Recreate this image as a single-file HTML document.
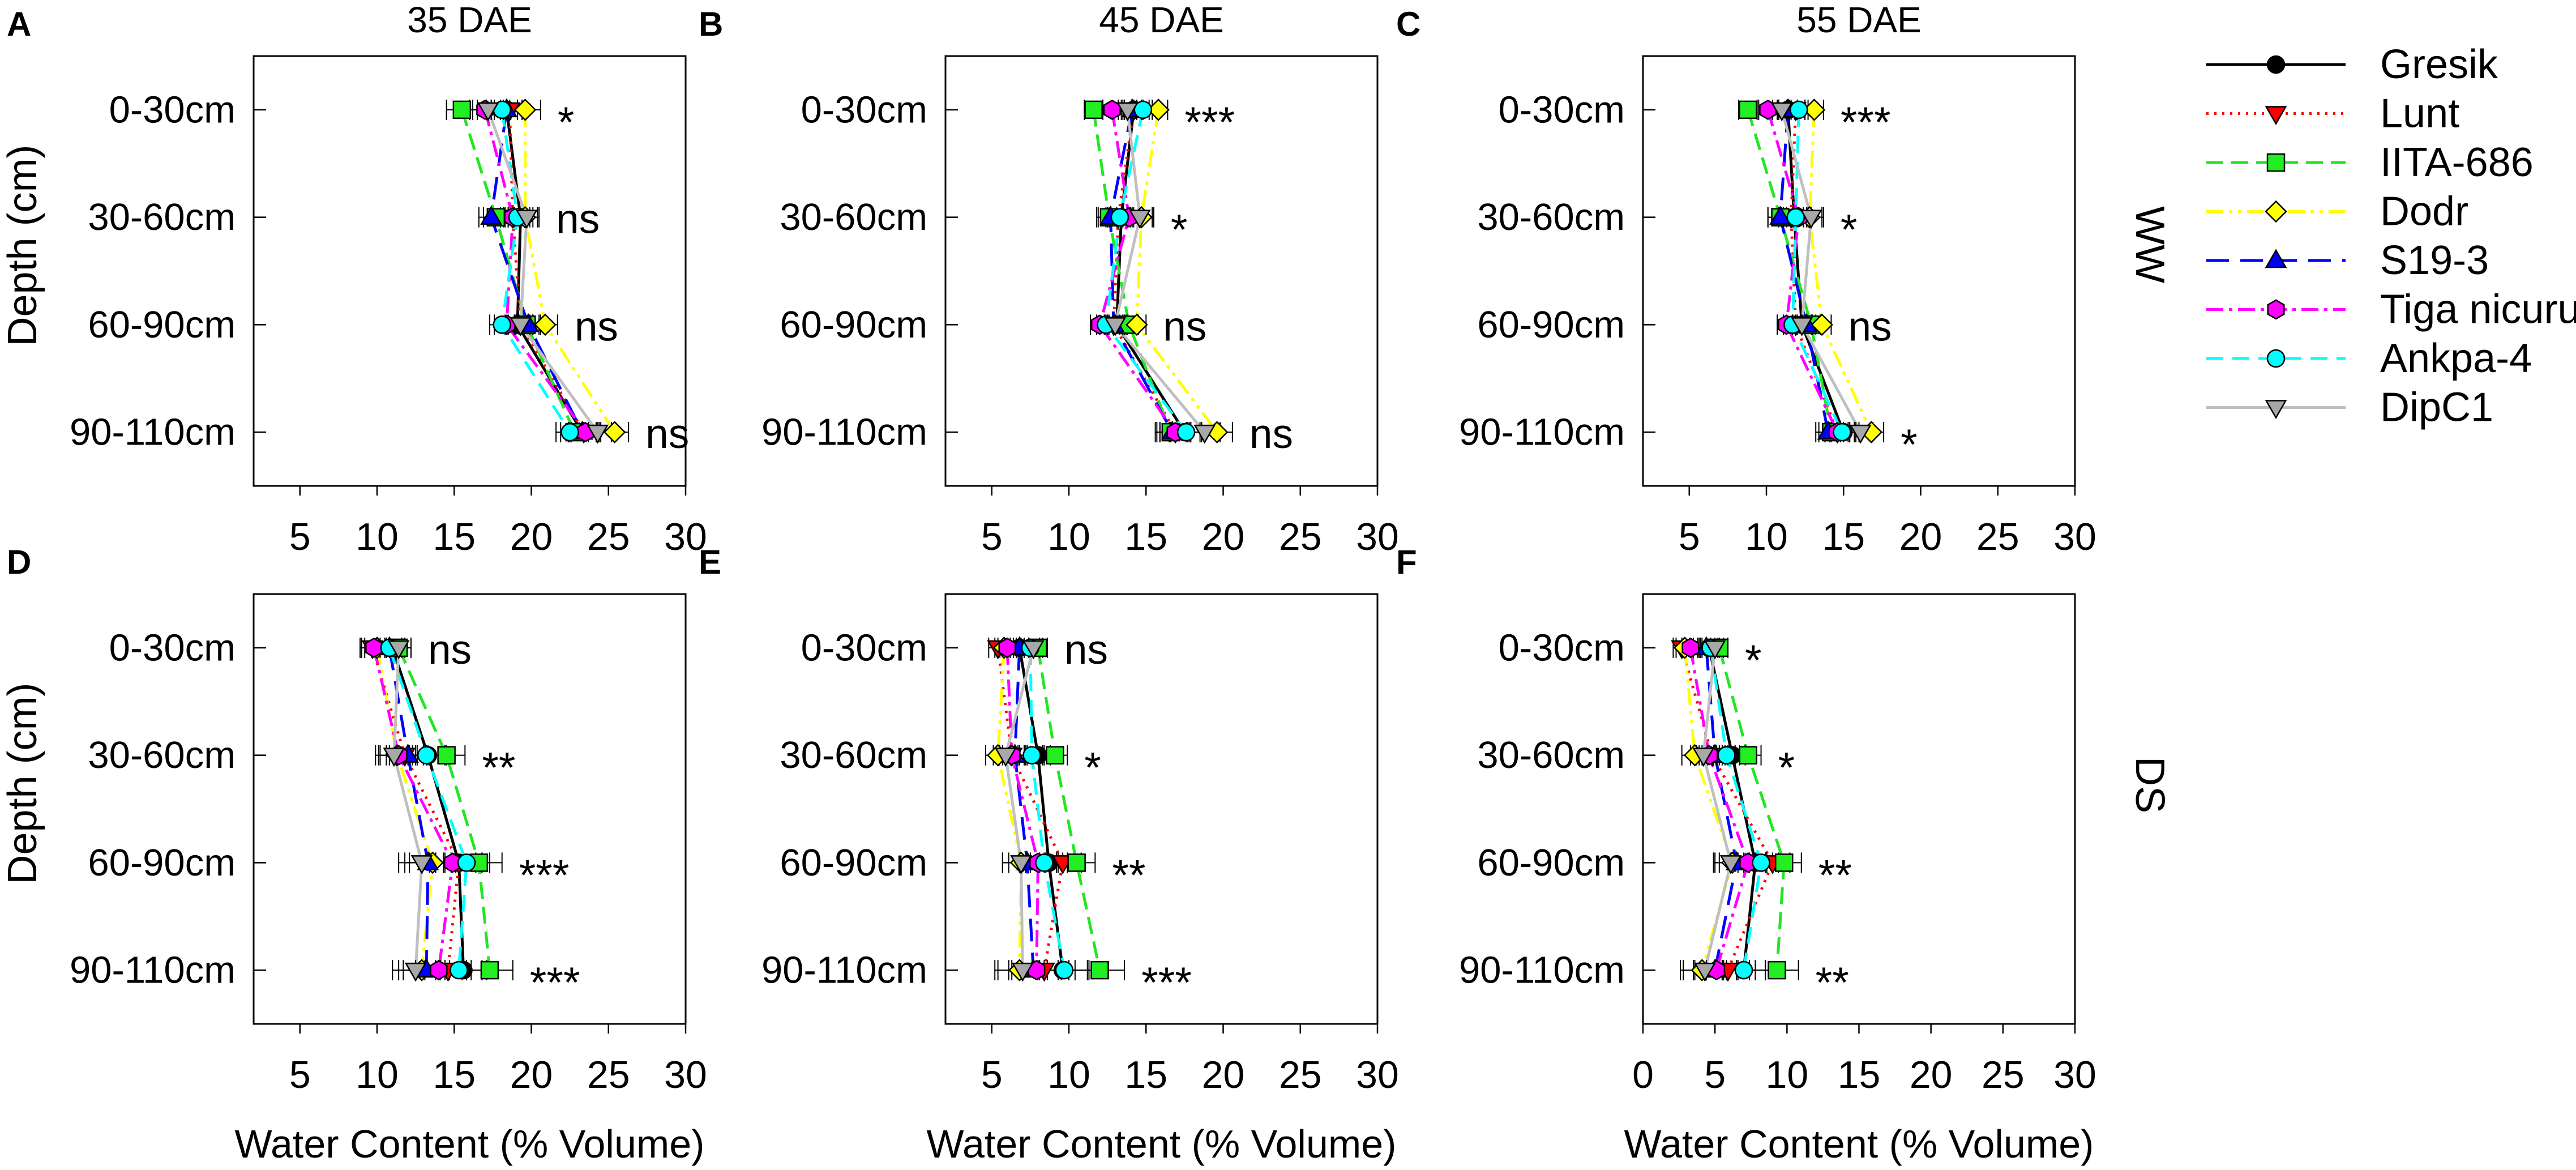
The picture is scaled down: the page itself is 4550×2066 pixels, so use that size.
<!DOCTYPE html>
<html><head><meta charset="utf-8"><style>
html,body{margin:0;padding:0;background:#fff;}
svg{display:block;font-family:"Liberation Sans",Arial,sans-serif;}
</style></head><body>
<svg id="chart" width="4550" height="2066" viewBox="0 0 4550 2066" xmlns="http://www.w3.org/2000/svg"></svg>
<script>
const categories = ["0-30cm","30-60cm","60-90cm","90-110cm"];
const seriesNames = ["Gresik","Lunt","IITA-686","Dodr","S19-3","Tiga nicuru","Ankpa-4","DipC1"];
const panelLetters = ["A","B","C","D","E","F"];
const panelTitles = ["35 DAE","45 DAE","55 DAE"];
const rowLabels = ["WW","DS"];
// values per series: [0-30, 30-60, 60-90, 90-110]
const valsA = [[18.4,19.3,19.1,23.3],[18.6,18.8,19.3,23.4],[15.5,17.7,19.7,22.8],[19.6,19.6,20.9,25.4],[18.4,17.4,19.8,23.3],[17.0,18.8,18.4,23.5],[18.1,19.1,18.1,22.5],[17.2,19.7,19.3,24.3]];
const valsB = [[14.2,13.4,13.1,17.5],[14.2,13.2,12.9,16.9],[11.6,12.6,13.9,16.6],[15.8,14.7,14.4,19.6],[14.1,12.7,12.9,16.7],[12.8,13.9,12.0,16.9],[14.8,13.3,12.4,17.6],[13.8,14.6,13.0,18.8]];
const valsC = [[11.4,11.8,12.3,15.0],[11.9,11.6,11.9,14.6],[8.8,10.9,12.9,14.2],[13.1,12.8,13.6,16.8],[11.4,10.9,12.6,14.0],[10.1,12.1,11.3,14.6],[12.1,11.9,11.7,14.9],[11.0,12.9,12.3,16.1]];
const valsD = [[11.0,13.3,15.3,15.6],[9.7,11.8,15.3,14.6],[11.4,14.5,16.6,17.3],[10.0,11.3,13.6,12.9],[10.8,12.0,13.3,13.2],[9.8,11.4,14.9,14.0],[10.8,13.2,15.8,15.3],[11.4,11.1,12.9,12.5]];
const valsE = [[6.8,8.0,8.7,9.6],[5.4,6.3,9.6,8.4],[8.0,9.1,10.5,12.0],[5.8,5.4,6.9,6.8],[6.8,6.5,7.3,7.7],[6.0,6.3,8.0,7.9],[7.5,7.6,8.4,9.7],[7.7,5.9,6.9,7.0]];
const valsF = [[4.6,6.2,7.8,7.0],[2.7,4.8,9.0,5.9],[5.3,7.3,9.8,9.3],[2.9,3.6,6.2,4.1],[4.4,5.0,6.5,5.0],[3.3,4.6,7.3,5.1],[4.7,5.8,8.2,7.0],[5.0,4.2,6.1,4.3]];
// standard errors per depth (shared across series)
const seA = [1.0,0.8,0.8,0.9];
const seB = [0.6,0.8,0.6,1.0];
const seC = [0.6,0.8,0.6,0.8];
const seD = [0.8,1.2,1.5,1.5];
const seE = [0.6,0.8,1.2,1.6];
const seF = [0.6,0.9,1.2,1.5];
const sigA = ["*","ns","ns","ns"];
const sigB = ["***","*","ns","ns"];
const sigC = ["***","*","ns","*"];
const sigD = ["ns","**","***","***"];
const sigE = ["ns","*","**","***"];
const sigF = ["*","*","**","**"];
const ticksAE = [5,10,15,20,25,30];
const ticksF = [0,5,10,15,20,25,30];

const NS = "http://www.w3.org/2000/svg";
const svg = document.getElementById("chart");
function mk(tag, attrs, parent){
  const e = document.createElementNS(NS, tag);
  for (const k in attrs) e.setAttribute(k, attrs[k]);
  (parent||svg).appendChild(e);
  return e;
}
const styles = [
  {stroke:"#000000", fill:"#000000", dash:"", shape:"circle"},
  {stroke:"#ff0000", fill:"#ff0000", dash:"4,10", shape:"tdown"},
  {stroke:"#22e622", fill:"#22ee22", dash:"30,14", shape:"square"},
  {stroke:"#ffff00", fill:"#ffff00", dash:"30,10,6,10,6,10", shape:"diamond"},
  {stroke:"#0000ff", fill:"#0000ff", dash:"40,20", shape:"tup"},
  {stroke:"#ff00ff", fill:"#ff00ff", dash:"30,10,6,10", shape:"hex"},
  {stroke:"#00ffff", fill:"#00ffff", dash:"30,16", shape:"circle"},
  {stroke:"#bfbfbf", fill:"#a8a8a8", dash:"", shape:"tdown"}
];
function marker(g, shape, cx, cy, fill, r){
  const a = {fill:fill, stroke:"#000", "stroke-width":2.5};
  let el;
  if (shape==="circle") el = mk("circle", Object.assign({cx:cx, cy:cy, r:r}, a), g);
  else if (shape==="square") el = mk("rect", Object.assign({x:cx-r, y:cy-r, width:2*r, height:2*r}, a), g);
  else {
    let pts;
    if (shape==="diamond") pts=[[0,-r*1.2],[r*1.2,0],[0,r*1.2],[-r*1.2,0]];
    else if (shape==="tup") pts=[[0,-r*1.2],[r*1.15,r*0.8],[-r*1.15,r*0.8]];
    else if (shape==="tdown") pts=[[0,r*1.2],[r*1.15,-r*0.8],[-r*1.15,-r*0.8]];
    else { pts=[]; for(let i=0;i<6;i++){const t=Math.PI/6+i*Math.PI/3; pts.push([r*1.1*Math.cos(t), r*1.1*Math.sin(t)]);} }
    el = mk("polygon", Object.assign({points: pts.map(p=>(cx+p[0])+","+(cy+p[1])).join(" ")}, a), g);
  }
  return el;
}

const panels = [
  {vals:valsA, se:seA, sig:sigA, x0:448, y0:99, min:2, ticks:ticksAE},
  {vals:valsB, se:seB, sig:sigB, x0:1670, y0:99, min:2, ticks:ticksAE},
  {vals:valsC, se:seC, sig:sigC, x0:2902, y0:99, min:2, ticks:ticksAE},
  {vals:valsD, se:seD, sig:sigD, x0:448, y0:1049, min:2, ticks:ticksAE},
  {vals:valsE, se:seE, sig:sigE, x0:1670, y0:1049, min:2, ticks:ticksAE},
  {vals:valsF, se:seF, sig:sigF, x0:2902, y0:1049, min:0, ticks:ticksF}
];
const W = 763, H = 759, MAX = 30;

panels.forEach((p, pi) => {
  const g = mk("g", {});
  
  
  const xs = v => p.x0 + (v - p.min) / (MAX - p.min) * W;
  const ys = i => p.y0 + (i + 0.5) * H / 4;
  const box = mk("rect", {x:p.x0, y:p.y0, width:W, height:H, fill:"none", stroke:"#000", "stroke-width":3}, g);
  
  
  // y ticks & labels
  categories.forEach((c, i) => {
    mk("line", {x1:p.x0, x2:p.x0+22, y1:ys(i), y2:ys(i), stroke:"#000", "stroke-width":2.5}, g);
    const t = mk("text", {x:p.x0-32, y:ys(i), "text-anchor":"end", "dominant-baseline":"central", "font-size":67}, g);
    t.textContent = c;
    
    
  });
  // x ticks
  p.ticks.forEach(v => {
    mk("line", {x1:xs(v), x2:xs(v), y1:p.y0+H, y2:p.y0+H+17, stroke:"#000", "stroke-width":2.5}, g);
    const t = mk("text", {x:xs(v), y:p.y0+H+90, "text-anchor":"middle", "dominant-baseline":"central", "font-size":68}, g);
    t.textContent = v;
    
    
  });
  // lines
  p.vals.forEach((s, si) => {
    const st = styles[si];
    const pl = mk("polyline", {points: s.map((v,i)=>xs(v)+","+ys(i)).join(" "), fill:"none", stroke:st.stroke, "stroke-width":5, "stroke-dasharray":st.dash}, g);
    
    
  });
  // error bars
  p.vals.forEach((s, si) => {
    s.forEach((v, i) => {
      const e = p.se[i], y = ys(i);
      mk("line", {x1:xs(v-e), x2:xs(v+e), y1:y, y2:y, stroke:"#000", "stroke-width":2}, g);
      mk("line", {x1:xs(v-e), x2:xs(v-e), y1:y-18, y2:y+18, stroke:"#000", "stroke-width":2}, g);
      mk("line", {x1:xs(v+e), x2:xs(v+e), y1:y-18, y2:y+18, stroke:"#000", "stroke-width":2}, g);
    });
  });
  // markers
  p.vals.forEach((s, si) => {
    const st = styles[si];
    s.forEach((v, i) => {
      const m = marker(g, st.shape, xs(v), ys(i), st.fill, 15);
      
      
    });
  });
  // significance
  p.sig.forEach((sg, i) => {
    let mx = -1e9;
    p.vals.forEach((s) => { mx = Math.max(mx, s[i] + p.se[i]); });
    const x = xs(mx) + 30;
    const t = mk("text", {x:x, "text-anchor":"start", "font-size": sg==="ns"?73:76}, g);
    if (sg === "ns") { t.setAttribute("y", ys(i)+28); }
    else { t.setAttribute("y", ys(i)+48); }
    t.textContent = sg;
    
    
  });
  // panel letter
  const L = mk("text", {x:10, y:p.y0-36, "font-size":60, "font-weight":"bold"}, g);
  L.setAttribute("x", p.x0 - 436);
  L.textContent = panelLetters[pi];
  
  
  if (pi < 3) {
    const T = mk("text", {x:p.x0+W/2, y:35, "text-anchor":"middle", "dominant-baseline":"central", "font-size":64}, g);
    T.textContent = panelTitles[pi];
    
    
  } else {
    const T = mk("text", {x:p.x0+W/2, y:2020, "text-anchor":"middle", "dominant-baseline":"central", "font-size":70}, g);
    T.textContent = "Water Content (% Volume)";
    
    
  }
  if (pi === 0 || pi === 3) {
    const cy = p.y0 + H/2 - 45;
    const T = mk("text", {x:40, y:cy, "text-anchor":"middle", "dominant-baseline":"central", "font-size":72, transform:"rotate(-90 40 "+cy+")"}, g);
    T.textContent = "Depth (cm)";
    
    
  }
});

// row labels
[432, 1386].forEach((cy, ri) => {
  const t = mk("text", {x:3797, y:cy, "text-anchor":"middle", "dominant-baseline":"central", "font-size":72, transform:"rotate(90 3797 "+cy+")"});
  t.textContent = rowLabels[ri];
  
  
});

// legend
const lg = mk("g", {});


seriesNames.forEach((n, si) => {
  const y = 114 + si * 86.5;
  const st = styles[si];
  const eg = mk("g", {}, lg);
  
  
  mk("line", {x1:3897, x2:4143, y1:y, y2:y, stroke:st.stroke, "stroke-width":5, "stroke-dasharray":st.dash}, eg);
  marker(eg, st.shape, 4020, y, st.fill, 15);
  const t = mk("text", {x:4204, y:y, "dominant-baseline":"central", "font-size":72}, eg);
  t.textContent = n;
});
</script>
</body></html>
